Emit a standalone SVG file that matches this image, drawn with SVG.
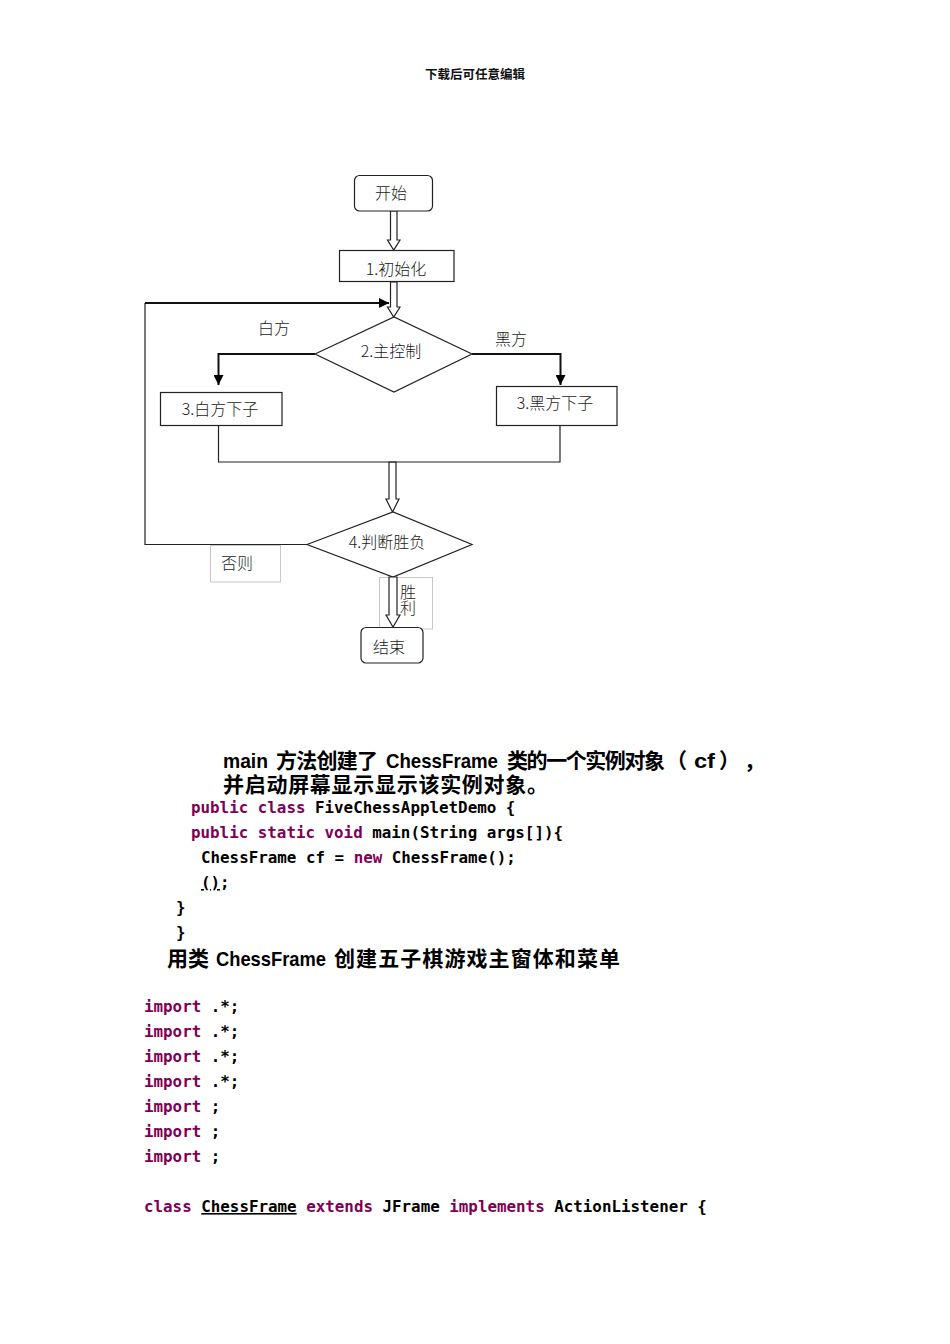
<svg xmlns="http://www.w3.org/2000/svg" width="950" height="1344" viewBox="0 0 950 1344">
<defs>
<style>
.fc{font-family:"Noto Sans CJK SC","DejaVu Sans",sans-serif;font-size:16px;fill:#1a1a1a;font-weight:300}
.box{fill:#fff;stroke:#222;stroke-width:1.2}
.lbl{fill:#fff;stroke:#c8c8c8;stroke-width:1}
.thin{fill:none;stroke:#222;stroke-width:1.2}
.thick{fill:none;stroke:#111;stroke-width:2}
.hollow{fill:#fff;stroke:#222;stroke-width:1.2;stroke-linejoin:miter}
.hd{font-family:"Liberation Sans","Noto Sans CJK SC",sans-serif;font-size:21px;font-weight:bold;fill:#000}
.code{font-family:"DejaVu Sans Mono","Liberation Mono",monospace;font-size:15.85px;font-weight:bold;fill:#000}
.kw{fill:#7F0055}
</style>
<marker id="fa" viewBox="0 0 10 10" refX="10" refY="5" markerWidth="5" markerHeight="5" orient="auto" markerUnits="strokeWidth">
<path d="M0,0 L10,5 L0,10 z" fill="#000"/>
</marker>
</defs>
<rect width="950" height="1344" fill="#fff"/>

<text x="475" y="79" text-anchor="middle" font-family="Noto Sans CJK SC,sans-serif" font-size="12.5" font-weight="bold" fill="#111">下载后可任意编辑</text>

<g id="connectors">
<polygon class="hollow" points="390.5,211 397,211 397,240 400,240 393.7,250 387.5,240 390.5,240"/>
<polygon class="hollow" points="390.5,282 397,282 397,307 400,307 393.7,317 387.5,307 390.5,307"/>
<polygon class="hollow" points="389,462 396,462 396,499 399,499 392.5,512 386,499 389,499"/>
<polyline class="thick" points="315,354 218.5,354 218.5,385" marker-end="url(#fa)"/>
<polyline class="thick" points="472,354 560.5,354 560.5,385" marker-end="url(#fa)"/>
<polyline class="thin" points="218.5,426 218.5,462 560,462 560,426"/>
<polyline class="thin" points="307,544.5 145,544.5 145,303"/>
<polyline class="thick" points="145,303 389,303" marker-end="url(#fa)"/>
</g>

<g id="start"><rect class="box" x="354.5" y="175.5" width="78" height="35.5" rx="5"/><text class="fc" x="391" y="199" text-anchor="middle" font-size="17">开始</text></g>
<g id="init"><rect class="box" x="339.5" y="250.5" width="114.5" height="31"/><text class="fc" x="396" y="275" text-anchor="middle">1.初始化</text></g>
<g id="main-control"><polygon class="box" points="315,354 394,317 472,354 394,392"/><text class="fc" x="391" y="357" text-anchor="middle">2.主控制</text></g>
<g id="label-white"><text class="fc" x="274" y="334" text-anchor="middle">白方</text></g>
<g id="label-black"><text class="fc" x="511" y="345" text-anchor="middle">黑方</text></g>
<g id="white-move"><rect class="box" x="160.5" y="392.5" width="121.5" height="33"/><text class="fc" x="220" y="415" text-anchor="middle">3.白方下子</text></g>
<g id="black-move"><rect class="box" x="496.5" y="386.5" width="120.5" height="39"/><text class="fc" x="555" y="409" text-anchor="middle">3.黑方下子</text></g>
<g id="judge"><polygon class="box" points="307,544.5 393,512 472,544.5 393,577"/><text class="fc" x="387" y="548" text-anchor="middle" font-size="13">4.判断胜负</text></g>
<g id="label-else"><rect class="lbl" x="210.5" y="545.5" width="70" height="36.5"/><text class="fc" x="237" y="569" text-anchor="middle">否则</text></g>
<g id="label-win"><rect class="lbl" x="379.5" y="577.5" width="53" height="51.5"/><polygon class="hollow" points="389,577 397,577 397,615 400,615 393,627 386,615 389,615"/><text class="fc" x="408" y="584" font-size="15" writing-mode="vertical-rl">胜利</text></g>
<g id="end"><rect class="box" x="361" y="627.5" width="62" height="35.5" rx="5"/><text class="fc" x="389" y="653" text-anchor="middle" font-size="17">结束</text></g>

<g id="text-block">
<text class="hd" y="768"><tspan x="223" textLength="45" lengthAdjust="spacingAndGlyphs">main</tspan><tspan x="276" textLength="102" lengthAdjust="spacing">方法创建了</tspan><tspan x="386" textLength="112" lengthAdjust="spacingAndGlyphs">ChessFrame</tspan><tspan x="507" textLength="158" lengthAdjust="spacing">类的一个实例对象</tspan><tspan x="666">（</tspan><tspan x="694" textLength="21" lengthAdjust="spacingAndGlyphs">cf</tspan><tspan x="719">）</tspan><tspan x="744">，</tspan></text>
<text class="hd" x="223" y="792" textLength="325" lengthAdjust="spacing">并启动屏幕显示显示该实例对象。</text>
<text class="code" x="191" y="813"><tspan class="kw">public class</tspan> FiveChessAppletDemo {</text>
<text class="code" x="191" y="838"><tspan class="kw">public static void</tspan> main(String args[]){</text>
<text class="code" x="201" y="863">ChessFrame cf = <tspan class="kw">new</tspan> ChessFrame();</text>
<text class="code" x="201" y="888"><tspan text-decoration="underline">()</tspan>;</text>
<text class="code" x="176" y="913">}</text>
<text class="code" x="176" y="938">}</text>
<text class="hd" y="966" font-size="22"><tspan x="167">用类</tspan><tspan x="216" textLength="110" lengthAdjust="spacingAndGlyphs">ChessFrame</tspan><tspan x="334" textLength="286" lengthAdjust="spacing">创建五子棋游戏主窗体和菜单</tspan></text>
<text class="code" x="144" y="1012"><tspan class="kw">import</tspan> .*;</text>
<text class="code" x="144" y="1037"><tspan class="kw">import</tspan> .*;</text>
<text class="code" x="144" y="1062"><tspan class="kw">import</tspan> .*;</text>
<text class="code" x="144" y="1087"><tspan class="kw">import</tspan> .*;</text>
<text class="code" x="144" y="1112"><tspan class="kw">import</tspan> ;</text>
<text class="code" x="144" y="1137"><tspan class="kw">import</tspan> ;</text>
<text class="code" x="144" y="1162"><tspan class="kw">import</tspan> ;</text>
<text class="code" x="144" y="1212"><tspan class="kw">class</tspan> <tspan text-decoration="underline">ChessFrame</tspan> <tspan class="kw">extends</tspan> JFrame <tspan class="kw">implements</tspan> ActionListener {</text>
</g>
</svg>
